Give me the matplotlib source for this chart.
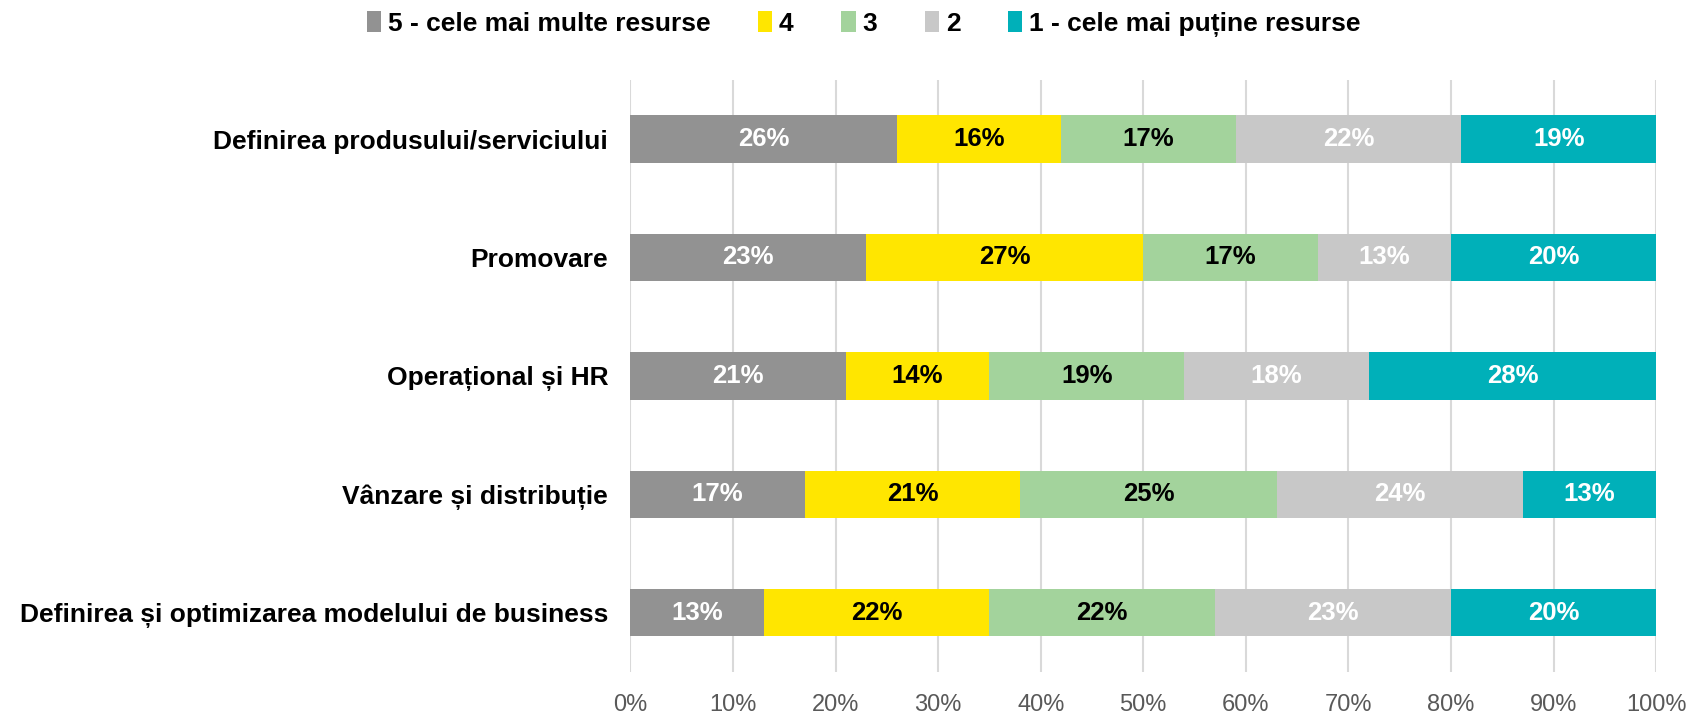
import numpy as np
import matplotlib
matplotlib.use('Agg')
from matplotlib import pyplot as plt

categories = ['Definirea produsului/serviciului', 'Promovare', 'Operațional și HR',
              'Vânzare și distribuție', 'Definirea și optimizarea modelului de business']
series_names = ['5 - cele mai multe resurse', '4', '3', '2', '1 - cele mai puține resurse']
values = [
    [26, 23, 21, 17, 13],
    [16, 27, 14, 21, 22],
    [17, 17, 19, 25, 22],
    [22, 13, 18, 24, 23],
    [19, 20, 28, 13, 20],
]
colors = ['#929292', '#FFE600', '#A3D39C', '#C8C8C8', '#00B0B9']
text_colors = ['white', 'black', 'black', 'white', 'white']
xticks = [0, 10, 20, 30, 40, 50, 60, 70, 80, 90, 100]

plt.rcParams['font.family'] = ['Liberation Sans', 'DejaVu Sans']

fig = plt.figure(figsize=(16.9, 7.13), dpi=100)
ax = fig.add_axes([0.373, 0.0575, 0.607, 0.8305])

y = np.arange(len(categories))
left = np.zeros(len(categories))
handles = []
for i, name in enumerate(series_names):
    v = np.array(values[i], dtype=float)
    b = ax.barh(y, v, left=left, height=0.4, color=colors[i], label=name, zorder=3)
    handles.append(b)
    for yy, l, w in zip(y, left, v):
        ax.text(l + w / 2, yy, f'{int(w)}%', ha='center', va='center',
                color=text_colors[i], fontsize=18.5, fontweight='bold', zorder=4)
    left += v

ax.set_xlim(0, 100)
ax.set_ylim(len(categories) - 0.5, -0.5)
ax.set_yticks(y)
ax.set_yticklabels(categories, fontsize=19, fontweight='bold')
ax.set_xticks(xticks)
ax.set_xticklabels([f'{t}%' for t in xticks], fontsize=17, color='#595959',
                   family=['Liberation Sans Narrow', 'Liberation Sans'])
ax.tick_params(axis='both', length=0)
ax.tick_params(axis='y', pad=16)
ax.tick_params(axis='x', pad=16)
ax.grid(axis='x', color='#D9D9D9', linewidth=1.5, zorder=0)
for s in ax.spines.values():
    s.set_visible(False)

fig.legend(handles=handles, loc='center', bbox_to_anchor=(0.511, 0.966), ncol=5,
           frameon=False, prop={'size': 19, 'weight': 'bold'},
           handlelength=0.55, handleheight=0.85, handletextpad=0.25, columnspacing=1.8)

fig.savefig('out.png', dpi=100)
